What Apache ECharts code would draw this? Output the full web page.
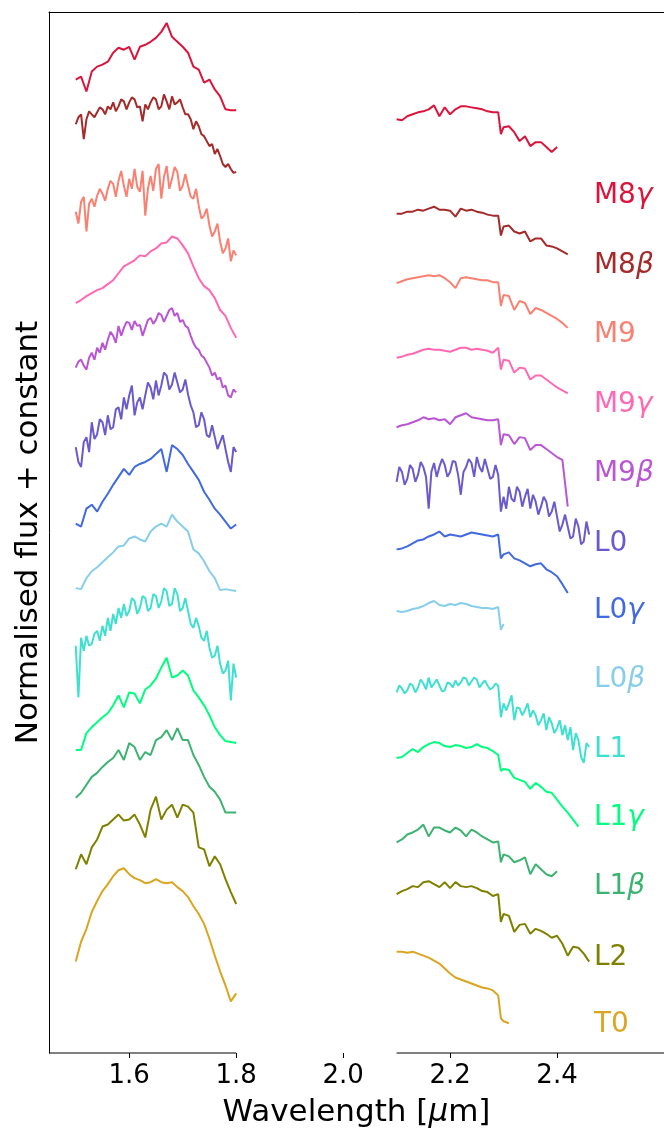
<!DOCTYPE html>
<html><head><meta charset="utf-8">
<script src="https://cdn.jsdelivr.net/npm/echarts@6/dist/echarts.min.js"></script>
<style>html,body{margin:0;padding:0;background:#fff}#c{width:664px;height:1133px}</style>
</head><body><div id="c"></div>
<script>
// Wavelength samples (micron)
const H_WL = [1.50,1.51,1.52,1.53,1.54,1.55,1.56,1.57,1.58,1.59,1.60,1.61,1.62,1.63,1.64,1.65,1.66,1.67,1.68,1.69,1.70,1.71,1.72,1.73,1.74,1.75,1.76,1.77,1.78,1.79,1.80];
const K_WL = [2.10,2.11,2.12,2.13,2.14,2.15,2.16,2.17,2.18,2.19,2.20,2.21,2.22,2.23,2.24,2.25,2.26,2.27,2.28,2.29,2.295,2.30,2.31,2.32,2.33,2.34,2.35,2.36,2.37,2.38,2.39,2.40,2.41,2.42,2.43,2.44,2.45,2.46];
const H_WL_FINE = [1.500,1.505,1.510,1.515,1.520,1.525,1.530,1.535,1.540,1.545,1.550,1.555,1.560,1.565,1.570,1.575,1.580,1.585,1.590,1.595,1.600,1.605,1.610,1.615,1.620,1.625,1.630,1.635,1.640,1.645,1.650,1.655,1.660,1.665,1.670,1.675,1.680,1.685,1.690,1.695,1.700,1.705,1.710,1.715,1.720,1.725,1.730,1.735,1.740,1.745,1.750,1.755,1.760,1.765,1.770,1.775,1.780,1.785,1.790,1.795,1.800];
const K_WL_FINE = [2.100,2.105,2.110,2.115,2.120,2.125,2.130,2.135,2.140,2.145,2.150,2.155,2.160,2.165,2.170,2.175,2.180,2.185,2.190,2.195,2.200,2.205,2.210,2.215,2.220,2.225,2.230,2.235,2.240,2.245,2.250,2.255,2.260,2.265,2.270,2.275,2.280,2.285,2.290,2.295,2.300,2.305,2.310,2.315,2.320,2.325,2.330,2.335,2.340,2.345,2.350,2.355,2.360,2.365,2.370,2.375,2.380,2.385,2.390,2.395,2.400,2.405,2.410,2.415,2.420,2.425,2.430,2.435,2.440,2.445,2.450,2.455,2.460];

// Normalised flux + constant
const m8g_H = [9.80,9.83,9.68,9.88,9.93,9.95,9.98,10.07,10.12,10.10,10.13,10.00,10.13,10.15,10.18,10.22,10.28,10.37,10.23,10.18,10.13,10.07,9.93,9.90,9.77,9.80,9.70,9.63,9.50,9.49,9.49];
const m8g_K = [9.40,9.39,9.43,9.45,9.47,9.48,9.50,9.54,9.43,9.52,9.45,9.50,9.53,9.53,9.52,9.51,9.50,9.48,9.47,9.47,9.25,9.32,9.33,9.27,9.18,9.23,9.13,9.17,9.17,9.12,9.07,9.12];
const m8b_H = [9.35,9.42,9.45,9.20,9.40,9.48,9.45,9.42,9.47,9.52,9.50,9.45,9.53,9.50,9.57,9.48,9.53,9.60,9.58,9.50,9.57,9.62,9.60,9.52,9.53,9.38,9.55,9.50,9.57,9.62,9.60,9.50,9.53,9.65,9.58,9.50,9.63,9.55,9.57,9.60,9.52,9.45,9.45,9.40,9.30,9.38,9.33,9.25,9.23,9.18,9.13,9.15,9.05,9.10,9.03,8.95,8.92,8.95,8.90,8.86,8.87];
const m8b_K = [8.45,8.45,8.47,8.47,8.49,8.48,8.50,8.52,8.49,8.49,8.48,8.42,8.50,8.48,8.49,8.47,8.46,8.44,8.43,8.43,8.23,8.32,8.33,8.27,8.25,8.27,8.17,8.20,8.20,8.13,8.12,8.10,8.07,8.04];
const m9_H = [8.47,8.35,8.57,8.62,8.27,8.55,8.60,8.52,8.63,8.70,8.65,8.58,8.70,8.78,8.75,8.62,8.78,8.88,8.73,8.62,8.80,8.70,8.90,8.72,8.67,8.88,8.43,8.70,8.83,8.68,8.90,8.95,8.60,8.82,8.93,8.70,8.80,8.92,8.87,8.68,8.73,8.85,8.73,8.62,8.60,8.70,8.53,8.40,8.43,8.50,8.33,8.22,8.27,8.35,8.17,8.05,8.10,8.20,7.97,8.08,8.03];
const m9_K = [7.75,7.77,7.79,7.80,7.81,7.82,7.83,7.82,7.83,7.80,7.76,7.70,7.80,7.81,7.80,7.79,7.78,7.78,7.76,7.76,7.52,7.63,7.62,7.48,7.57,7.55,7.44,7.50,7.48,7.45,7.42,7.39,7.35,7.30];
const m9g_H = [7.55,7.58,7.62,7.65,7.68,7.70,7.74,7.78,7.85,7.92,7.95,7.98,8.03,8.02,8.07,8.10,8.15,8.16,8.22,8.20,8.13,8.05,7.92,7.80,7.72,7.68,7.60,7.48,7.42,7.30,7.20];
const m9g_K = [7.00,7.01,7.03,7.04,7.06,7.08,7.09,7.08,7.08,7.07,7.06,7.08,7.10,7.10,7.08,7.09,7.08,7.07,7.05,7.10,6.88,6.98,6.97,6.85,6.90,6.89,6.78,6.82,6.82,6.78,6.74,6.70,6.67,6.64];
const m9b_H = [6.90,6.96,6.98,6.92,6.88,7.00,7.05,6.98,7.10,7.05,7.15,7.08,7.18,7.26,7.22,7.15,7.32,7.22,7.30,7.36,7.35,7.28,7.37,7.32,7.33,7.22,7.30,7.38,7.40,7.34,7.38,7.45,7.43,7.36,7.42,7.48,7.50,7.42,7.45,7.36,7.38,7.32,7.30,7.22,7.15,7.10,7.08,7.02,7.00,6.95,6.90,6.82,6.85,6.78,6.80,6.70,6.72,6.62,6.60,6.68,6.65];
const m9b_K = [6.30,6.32,6.33,6.35,6.37,6.40,6.38,6.39,6.37,6.38,6.33,6.40,6.42,6.44,6.40,6.39,6.38,6.37,6.37,6.38,6.12,6.23,6.22,6.13,6.20,6.19,6.07,6.12,6.12,6.08,6.04,6.00,5.97,5.50];
const l0_H = [6.10,5.95,5.90,6.15,6.20,6.05,6.35,6.18,6.23,6.38,6.35,6.22,6.42,6.28,6.30,6.48,6.50,6.38,6.60,6.48,6.62,6.72,6.42,6.55,6.60,6.48,6.62,6.75,6.70,6.58,6.77,6.62,6.72,6.85,6.82,6.68,6.73,6.85,6.75,6.65,6.68,6.78,6.63,6.52,6.45,6.30,6.32,6.45,6.38,6.22,6.20,6.32,6.20,6.08,6.15,6.22,6.08,5.95,5.85,6.10,6.05];
const l0_K = [5.75,5.90,5.85,5.72,5.78,5.92,5.88,5.75,5.82,5.95,5.90,5.80,5.48,5.85,5.94,5.80,5.90,5.98,5.92,5.80,5.85,5.96,5.95,5.82,5.62,5.85,5.90,5.98,5.94,5.80,6.00,5.90,5.85,5.98,5.88,5.78,5.80,5.92,5.82,5.45,5.60,5.48,5.70,5.58,5.55,5.70,5.65,5.50,5.60,5.68,5.48,5.62,5.55,5.42,5.50,5.60,5.55,5.40,5.45,5.55,5.40,5.25,5.32,5.42,5.30,5.18,5.20,5.38,5.30,5.12,5.15,5.35,5.22];
const l0g_H = [5.33,5.30,5.48,5.52,5.45,5.55,5.63,5.72,5.80,5.88,5.82,5.90,5.93,5.95,5.98,6.03,6.08,5.85,6.12,6.08,6.02,5.93,5.85,5.77,5.65,5.57,5.48,5.42,5.35,5.28,5.32];
const l0g_K = [5.07,5.08,5.10,5.13,5.16,5.17,5.20,5.22,5.25,5.20,5.22,5.21,5.20,5.22,5.24,5.23,5.22,5.21,5.20,5.22,4.98,5.02,5.04,4.98,4.96,4.93,4.90,4.92,4.93,4.87,4.84,4.80,4.72,4.63];
const l0b_H = [4.68,4.67,4.78,4.85,4.89,4.94,4.99,5.04,5.10,5.11,5.18,5.20,5.17,5.15,5.25,5.30,5.33,5.30,5.42,5.35,5.30,5.25,5.07,5.03,4.95,4.85,4.78,4.66,4.67,4.66,4.65];
const l0b_K = [4.45,4.44,4.45,4.47,4.48,4.50,4.53,4.55,4.51,4.50,4.52,4.51,4.53,4.52,4.50,4.49,4.48,4.48,4.47,4.49,4.26,4.32];
const l1_H = [4.10,3.58,4.18,4.05,4.20,4.10,4.12,4.22,4.25,4.15,4.30,4.20,4.38,4.25,4.42,4.32,4.48,4.38,4.52,4.40,4.45,4.58,4.55,4.42,4.48,4.60,4.58,4.45,4.48,4.62,4.60,4.48,4.55,4.68,4.65,4.50,4.52,4.68,4.62,4.45,4.48,4.58,4.45,4.32,4.28,4.38,4.30,4.18,4.15,4.25,4.08,3.98,4.00,4.10,3.92,3.82,3.85,3.95,3.55,3.92,3.78];
const l1_K = [3.63,3.70,3.67,3.62,3.65,3.72,3.70,3.63,3.68,3.76,3.72,3.66,3.78,3.68,3.72,3.76,3.70,3.64,3.65,3.73,3.72,3.68,3.75,3.70,3.73,3.78,3.77,3.70,3.74,3.78,3.76,3.68,3.72,3.75,3.70,3.66,3.68,3.72,3.70,3.38,3.52,3.45,3.52,3.60,3.35,3.48,3.47,3.40,3.45,3.52,3.38,3.45,3.40,3.30,3.35,3.42,3.25,3.38,3.32,3.22,3.27,3.35,3.20,3.30,3.15,3.28,3.05,3.22,3.15,2.98,2.92,3.12,3.08];
const l1g_H = [3.05,3.05,3.22,3.28,3.33,3.38,3.42,3.50,3.60,3.48,3.63,3.62,3.52,3.66,3.70,3.77,3.88,3.98,3.78,3.80,3.85,3.80,3.65,3.58,3.50,3.40,3.28,3.20,3.14,3.13,3.12];
const l1g_K = [2.97,2.98,3.02,3.06,3.03,3.08,3.11,3.13,3.12,3.09,3.08,3.10,3.09,3.07,3.08,3.11,3.08,3.07,3.04,3.00,2.84,2.86,2.85,2.77,2.75,2.73,2.66,2.72,2.68,2.63,2.62,2.55,2.48,2.42,2.35,2.28];
const l1b_H = [2.57,2.62,2.70,2.78,2.82,2.88,2.93,2.97,3.05,2.95,3.12,3.08,2.95,3.03,3.00,3.15,3.18,3.25,3.15,3.27,3.15,3.15,3.00,2.90,2.78,2.68,2.63,2.55,2.42,2.42,2.42];
const l1b_K = [2.12,2.15,2.20,2.22,2.25,2.30,2.18,2.27,2.27,2.24,2.22,2.27,2.24,2.18,2.25,2.22,2.18,2.15,2.12,2.13,1.92,2.00,1.98,1.92,1.94,1.97,1.80,1.90,1.85,1.80,1.78,1.83];
const l2_H = [1.85,2.00,1.90,2.07,2.15,2.28,2.30,2.35,2.40,2.34,2.35,2.40,2.30,2.17,2.45,2.58,2.35,2.45,2.50,2.37,2.50,2.48,2.42,2.07,2.05,1.88,1.98,1.90,1.75,1.62,1.50];
const l2_K = [1.60,1.63,1.65,1.68,1.67,1.72,1.73,1.70,1.67,1.72,1.66,1.72,1.68,1.67,1.68,1.66,1.63,1.62,1.58,1.60,1.32,1.40,1.38,1.22,1.29,1.30,1.20,1.25,1.23,1.20,1.16,1.18,1.10,0.98,1.07,1.06,1.00,0.92];
const t0_H = [0.92,1.12,1.25,1.42,1.53,1.63,1.70,1.78,1.84,1.86,1.80,1.76,1.74,1.71,1.72,1.75,1.72,1.71,1.72,1.67,1.63,1.57,1.48,1.40,1.30,1.15,0.98,0.82,0.68,0.52,0.60];
const t0_K = [1.02,1.02,1.01,1.02,1.00,0.98,0.96,0.93,0.90,0.85,0.80,0.76,0.74,0.72,0.70,0.68,0.66,0.65,0.63,0.58,0.35,0.32,0.30];

const NAMES = ['M8γ','M8β','M9','M9γ','M9β','L0','L0γ','L0β','L1','L1γ','L1β','L2','T0'];
const LABEL_BASE = ['M8','M8','M9','M9','M9','L0','L0','L0','L1','L1','L1','L2','T0'];
const LABEL_GREEK = ['γ','β','','γ','β','','γ','β','','γ','β','',''];
const LABEL_Y = [8.63,7.93,7.23,6.53,5.83,5.13,4.45,3.76,3.05,2.37,1.67,0.96,0.28];
const LABEL_X = 2.469;
const COLORS = ['#DC143C','#A52A2A','#FA8072','#FF69B4','#BA55D3','#6A5ACD','#4169E1','#87CEEB','#40E0D0','#00FF7F','#3CB371','#808000','#DAA520'];
const H_SETS = [m8g_H,m8b_H,m9_H,m9g_H,m9b_H,l0_H,l0g_H,l0b_H,l1_H,l1g_H,l1b_H,l2_H,t0_H];
const K_SETS = [m8g_K,m8b_K,m9_K,m9g_K,m9b_K,l0_K,l0g_K,l0b_K,l1_K,l1g_K,l1b_K,l2_K,t0_K];

const X_TICKS = [1.6,1.8,2.0,2.2,2.4];
const X_MIN = 1.45, X_MAX = 2.6, Y_MIN = 0, Y_MAX = 10.48;
const FONT = 'DejaVu Sans';

const series = [];
NAMES.forEach((n, i) => {
  const hv = H_SETS[i], kv = K_SETS[i];
  const hw = hv.length === H_WL_FINE.length ? H_WL_FINE : H_WL;
  const kw = kv.length === K_WL_FINE.length ? K_WL_FINE : K_WL;
  const mk = (wl, vals) => vals.map((v, j) => [wl[j], v]);
  [mk(hw, hv), mk(kw, kv)].forEach(d => {
    series.push({
      type: 'line', name: n, data: d, showSymbol: false, symbol: 'none',
      lineStyle: { color: COLORS[i], width: 2 }, itemStyle: { color: COLORS[i] },
      silent: true, animation: false, z: 2
    });
  });
});
// broken bottom spine
[[[X_MIN, Y_MIN], [1.8, Y_MIN]], [[2.1, Y_MIN], [X_MAX, Y_MIN]]].forEach(d => {
  series.push({ type: 'line', data: d, symbol: 'none', clip: false, silent: true, animation: false,
    lineStyle: { color: '#000', width: 1 }, z: 5 });
});
// spectral type labels
series.push({
  type: 'scatter', symbolSize: 0, silent: true, animation: false, z: 6,
  itemStyle: { opacity: 1 }, emphasis: { disabled: true },
  data: NAMES.map((n, i) => ({
    value: [LABEL_X, LABEL_Y[i]],
    label: {
      show: true, position: 'inside', align: 'left', verticalAlign: 'middle',
      formatter: LABEL_BASE[i] + (LABEL_GREEK[i] ? '{g|' + LABEL_GREEK[i] + '}' : ''),
      color: COLORS[i], fontSize: 28, fontFamily: FONT, opacity: 1,
      rich: { g: { color: COLORS[i], fontSize: 28, fontFamily: FONT, fontStyle: 'italic' } }
    }
  }))
});

const chart = echarts.init(document.getElementById('c'), null, { renderer: 'canvas' });
chart.setOption({
  animation: false,
  backgroundColor: '#fff',
  grid: { left: 49, top: 12, width: 621, height: 1048, containLabel: false },
  xAxis: [{
    type: 'value', min: X_MIN, max: X_MAX, position: 'bottom',
    axisLine: { show: false },
    axisTick: { show: true, customValues: X_TICKS, length: 5, lineStyle: { color: '#000', width: 1 } },
    axisLabel: { show: true, customValues: X_TICKS, formatter: v => v.toFixed(1), fontSize: 26, color: '#000', fontFamily: FONT, margin: 10 },
    splitLine: { show: false },
    name: 'Wavelength [{i|μ}m]', nameLocation: 'middle', nameGap: 44,
    nameTextStyle: { fontSize: 31, color: '#000', fontFamily: FONT,
      rich: { i: { fontSize: 31, color: '#000', fontFamily: FONT, fontStyle: 'italic' } } }
  }, {
    type: 'value', min: X_MIN, max: X_MAX, position: 'top',
    axisLine: { show: true, lineStyle: { color: '#000', width: 1 } },
    axisTick: { show: false }, axisLabel: { show: false }, splitLine: { show: false }
  }],
  yAxis: {
    type: 'value', min: Y_MIN, max: Y_MAX,
    axisLine: { show: true, lineStyle: { color: '#000', width: 1 } },
    axisTick: { show: false }, axisLabel: { show: false }, splitLine: { show: false },
    name: 'Normalised flux + constant', nameLocation: 'middle', nameGap: 5,
    nameTextStyle: { fontSize: 31, color: '#000', fontFamily: FONT }
  },
  series: series
});
</script>
</body></html>
